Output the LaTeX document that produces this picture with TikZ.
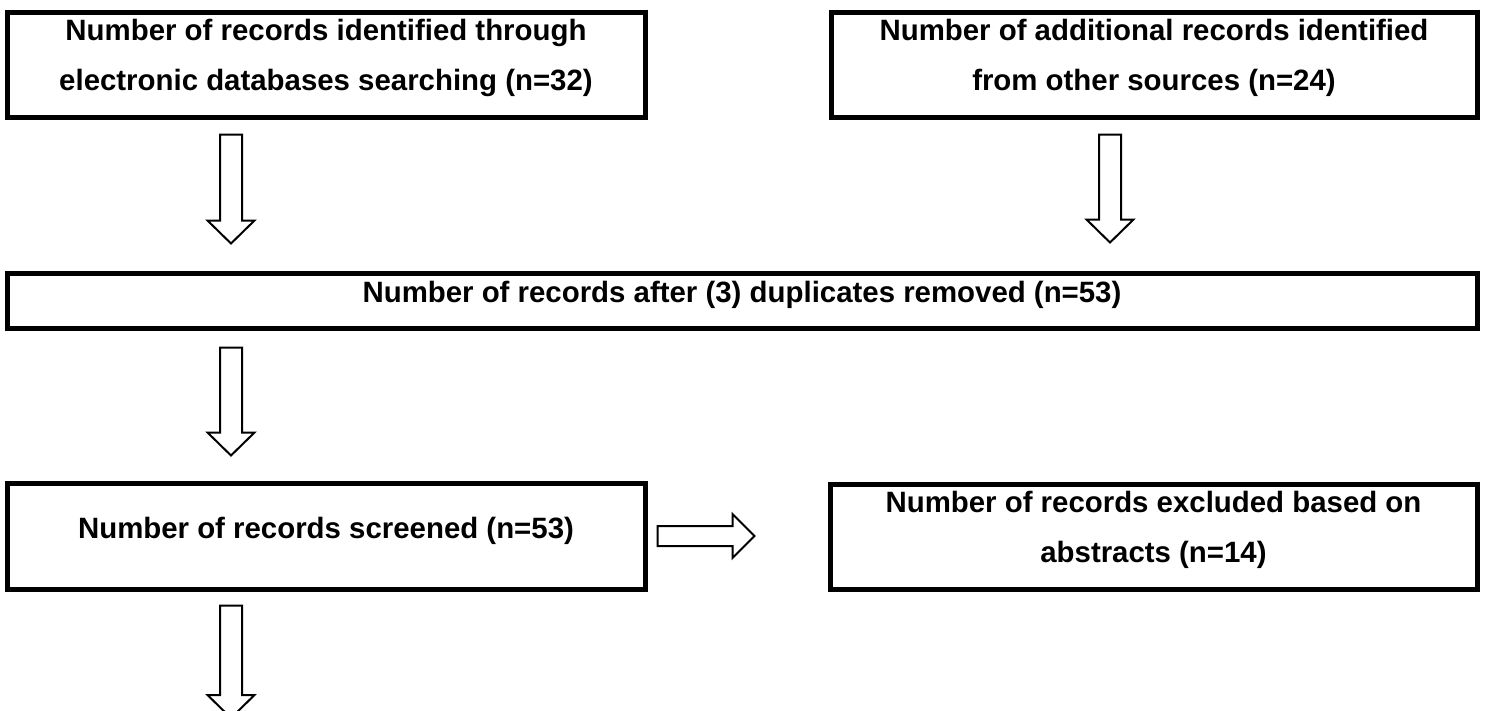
\documentclass[tikz,border=0pt]{standalone}
\usepackage{fontspec}
\setmainfont{Liberation Sans}
\usepackage{tikz}
\usetikzlibrary{calc}

\tikzset{
  box/.style={rectangle,draw,line width=5pt,inner sep=0pt,align=center,
    font=\fontsize{29.4}{50}\selectfont\bfseries},
  twoline/.style={text height=72pt,text depth=20pt},
  oneline/.style={text height=21pt,text depth=17pt},
  downblock/.style={draw,line width=2pt,to path={let \p1=(\tikztostart), \p2=(\tikztotarget) in
    (\x1-11pt,\y1) -- (\x1+11pt,\y1) -- (\x1+11pt,\y2+23pt) -- (\x1+23.5pt,\y2+23pt)
    -- (\x1,\y2) -- (\x1-23.5pt,\y2+23pt) -- (\x1-11pt,\y2+23pt) -- cycle}},
  rightblock/.style={draw,line width=2pt,to path={let \p1=(\tikztostart), \p2=(\tikztotarget) in
    (\x1,\y1+10pt) -- (\x2-22pt,\y1+10pt) -- (\x2-22pt,\y1+22pt) -- (\x2,\y1)
    -- (\x2-22pt,\y1-22pt) -- (\x2-22pt,\y1-10pt) -- (\x1,\y1-10pt) -- cycle}}
}

\begin{document}
\begin{tikzpicture}[x=1pt,y=-1pt]
\useasboundingbox (0,0) rectangle (1486,710);
\node (DBS) at (326,64.5) [box,twoline,minimum width=638pt,minimum height=105pt] {Number of records identified through\\electronic databases searching (n=32)};
\node (OTH) at (1154,64.5) [box,twoline,minimum width=646pt,minimum height=105pt] {Number of additional records identified\\from other sources (n=24)};
\node (DUP) at (742,300.5) [box,text height=21pt,text depth=18pt,minimum width=1470pt,minimum height=55pt] {Number of records after (3) duplicates removed (n=53)};
\node (SCR) at (326,536) [box,oneline,minimum width=638pt,minimum height=106pt] {Number of records screened (n=53)};
\node (EXC) at (1153.5,536.5) [box,twoline,minimum width=647pt,minimum height=105pt] {Number of records excluded based on\\abstracts (n=14)};
\coordinate (NEXT) at (231,718);

\draw [downblock] ([xshift=-95pt,yshift=-15pt]DBS.south) to ([yshift=27pt]DUP.north);
\draw [downblock] ([xshift=-44pt,yshift=-15pt]OTH.south) to ([yshift=28pt]DUP.north);
\draw [downblock] ([xshift=-511pt,yshift=-17pt]DUP.south) to ([yshift=25pt]SCR.north);
\draw [downblock] ([xshift=-95pt,yshift=-14pt]SCR.south) to (NEXT);
\draw [rightblock] ([xshift=10pt]SCR.east) to ([xshift=-73pt]EXC.west);
\end{tikzpicture}
\end{document}
